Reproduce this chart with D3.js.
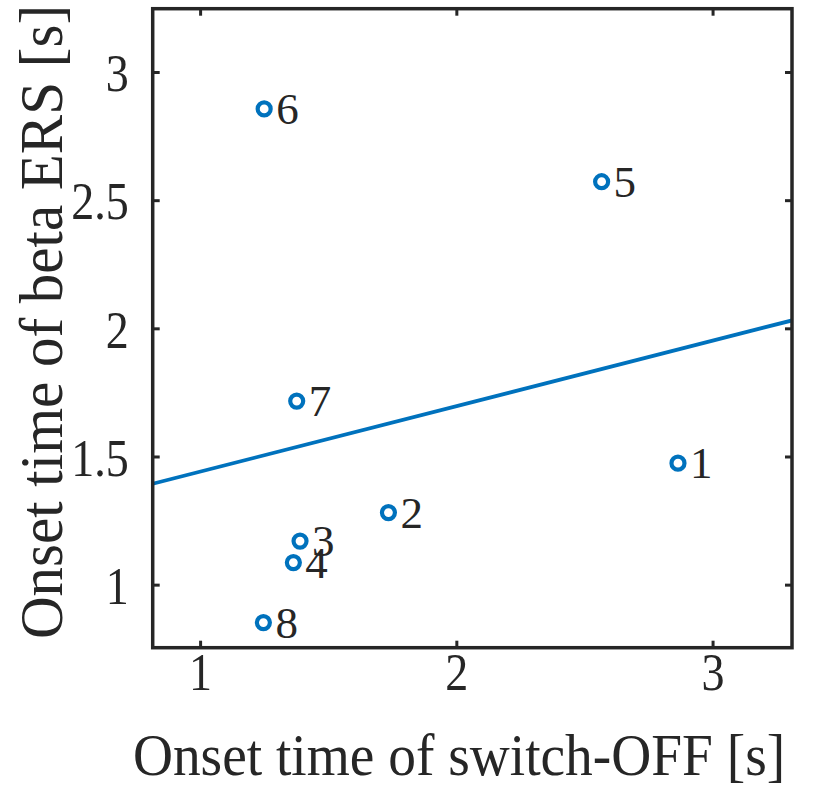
<!DOCTYPE html>
<html>
<head>
<meta charset="utf-8">
<script src="https://cdn.jsdelivr.net/npm/d3@7"></script>
<style>
  html, body { margin: 0; padding: 0; background: #fff; }
  svg { display: block; }
  text { font-family: "Liberation Serif", "Times New Roman", serif; fill: #262626; }
</style>
</head>
<body>
<svg id="chart" width="817" height="789"></svg>
<script>
// ---- data ----
const subjects = ["1", "2", "3", "4", "5", "6", "7", "8"];
const switchOffOnset = [2.865, 1.735, 1.39, 1.364, 2.567, 1.25, 1.377, 1.247];
const betaErsOnset = [1.474, 1.281, 1.170, 1.086, 2.572, 2.856, 1.716, 0.852];
const xTicks = [1, 2, 3];
const yTicks = [1, 1.5, 2, 2.5, 3];
const xDomain = [0.815, 3.31];
const yDomain = [0.754, 3.247];

// ---- layout ----
const svg = d3.select("#chart");
const pLeft = 152.7, pRight = 792, pTop = 8.7, pBottom = 647.7;
const x = d3.scaleLinear().domain(xDomain).range([pLeft, pRight]);
const y = d3.scaleLinear().domain(yDomain).range([pBottom, pTop]);
const axisColor = "#262626";
const blue = "#0072BD";
const tickFont = 46, tickStretch = 1.13;
const xLabelFont = 55.4, xLabelStretch = 1.08;
const yLabelFont = 59, yLabelStretch = 1.05;
const pointFont = 45, tickLen = 7;

// least-squares fit line computed from the data (lsline)
const n = subjects.length;
const mx = d3.mean(switchOffOnset), my = d3.mean(betaErsOnset);
let sxy = 0, sxx = 0;
for (let i = 0; i < n; i++) {
  sxy += (switchOffOnset[i] - mx) * (betaErsOnset[i] - my);
  sxx += (switchOffOnset[i] - mx) ** 2;
}
const slope = sxy / sxx, intercept = my - slope * mx;

svg.append("defs").append("clipPath").attr("id", "clip")
  .append("rect").attr("x", pLeft).attr("y", pTop).attr("width", pRight - pLeft).attr("height", pBottom - pTop);

const plot = svg.append("g").attr("clip-path", "url(#clip)");

// markers
plot.selectAll("circle.pt").data(subjects).join("circle")
  .attr("class", "pt")
  .attr("cx", (d, i) => x(switchOffOnset[i]))
  .attr("cy", (d, i) => y(betaErsOnset[i]))
  .attr("r", 6.5)
  .attr("fill", "none")
  .attr("stroke", blue)
  .attr("stroke-width", 4.2);

// fit line
plot.append("line")
  .attr("x1", x(xDomain[0])).attr("y1", y(intercept + slope * xDomain[0]))
  .attr("x2", x(xDomain[1])).attr("y2", y(intercept + slope * xDomain[1]))
  .attr("stroke", blue).attr("stroke-width", 3.8);

// point labels
svg.selectAll("text.lbl").data(subjects).join("text")
  .attr("class", "lbl")
  .attr("x", (d, i) => x(switchOffOnset[i]) + 12)
  .attr("y", (d, i) => y(betaErsOnset[i]) + pointFont * 0.34)
  .attr("font-size", pointFont)
  .text(d => d);

// axes via d3 axis generators (ticks inside, mirrored)
function styleAxis(g) {
  g.selectAll(".domain").remove();
  g.selectAll(".tick line").attr("stroke", axisColor).attr("stroke-width", 3);
}
svg.append("g").attr("transform", `translate(0,${pBottom})`)
  .call(d3.axisBottom(x).tickValues(xTicks).tickSizeInner(-tickLen).tickSizeOuter(0).tickFormat(d3.format("d")))
  .call(styleAxis)
  .call(g => g.selectAll(".tick text").attr("y", 0).attr("dy", 0)
    .attr("transform", `translate(0,42.5) scale(1,${tickStretch})`)
    .attr("font-size", tickFont).attr("font-family", "Liberation Serif").attr("fill", axisColor));
svg.append("g").attr("transform", `translate(0,${pTop})`)
  .call(d3.axisTop(x).tickValues(xTicks).tickSizeInner(-tickLen).tickSizeOuter(0).tickFormat(""))
  .call(styleAxis);
svg.append("g").attr("transform", `translate(${pLeft},0)`)
  .call(d3.axisLeft(y).tickValues(yTicks).tickSizeInner(-tickLen).tickSizeOuter(0).tickFormat(d3.format("")))
  .call(styleAxis)
  .call(g => g.selectAll(".tick text").attr("x", 0).attr("dy", "0.34em")
    .attr("transform", `translate(-24,1) scale(1,${tickStretch})`)
    .attr("font-size", tickFont).attr("font-family", "Liberation Serif").attr("fill", axisColor));
svg.append("g").attr("transform", `translate(${pRight},0)`)
  .call(d3.axisRight(y).tickValues(yTicks).tickSizeInner(-tickLen).tickSizeOuter(0).tickFormat(""))
  .call(styleAxis);

// box
svg.append("rect")
  .attr("x", pLeft).attr("y", pTop).attr("width", pRight - pLeft).attr("height", pBottom - pTop)
  .attr("fill", "none").attr("stroke", axisColor).attr("stroke-width", 3.5);

// axis titles
svg.append("text")
  .attr("transform", `translate(459,775) scale(1,${xLabelStretch})`)
  .attr("text-anchor", "middle").attr("font-size", xLabelFont)
  .text("Onset time of switch-OFF [s]");
svg.append("text")
  .attr("transform", `translate(62,322) rotate(-90) scale(1,${yLabelStretch})`)
  .attr("text-anchor", "middle").attr("font-size", yLabelFont)
  .text("Onset time of beta ERS [s]");
</script>
</body>
</html>
